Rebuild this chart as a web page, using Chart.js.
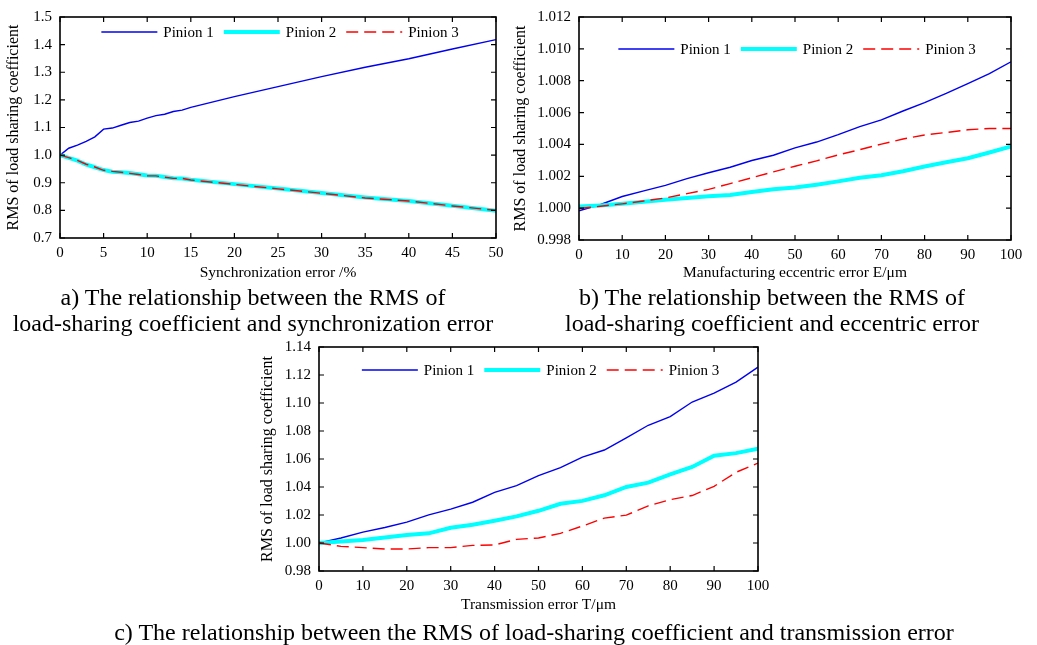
<!DOCTYPE html>
<html>
<head>
<meta charset="utf-8">
<script src="https://cdn.jsdelivr.net/npm/chart.js@4"></script>
<style>
  body { margin: 0; background: #fff; }
  #page { position: relative; width: 1037px; height: 645px; overflow: hidden; font-family: 'Liberation Serif', 'Times New Roman', serif; }
  .box { position: absolute; }
  .cap { position: absolute; font-size: 24px; color: #000; text-align: center; white-space: nowrap; line-height: 26px; }
</style>
</head>
<body>
<div id="page">
  <div class="box" style="left:0;top:0;width:510px;height:285px"><canvas id="chartA"></canvas></div>
  <div class="box" style="left:510px;top:0;width:527px;height:285px"><canvas id="chartB"></canvas></div>
  <div class="box" style="left:250px;top:330px;width:530px;height:290px"><canvas id="chartC"></canvas></div>
  <div class="cap" style="left:0;width:506px;top:284px">a) The relationship between the RMS of<br>load-sharing coefficient and synchronization error</div>
  <div class="cap" style="left:522px;width:500px;top:284px">b) The relationship between the RMS of<br>load-sharing coefficient and eccentric error</div>
  <div class="cap" style="left:34px;width:1000px;top:619px">c) The relationship between the RMS of load-sharing coefficient and transmission error</div>
</div>
<script>
// a) synchronization error
const syncX = [0, 1, 2, 3, 4, 5, 6, 7, 8, 9, 10, 11, 12, 13, 14, 15, 20, 25, 30, 35, 40, 45, 50];
const syncP1 = [1.000, 1.025, 1.036, 1.050, 1.066, 1.094, 1.098, 1.108, 1.118, 1.123, 1.134, 1.143, 1.148, 1.158, 1.163, 1.173, 1.212, 1.248, 1.284, 1.318, 1.349, 1.384, 1.418];
const syncP2 = [1.000, 0.990, 0.980, 0.966, 0.956, 0.946, 0.940, 0.938, 0.935, 0.931, 0.926, 0.925, 0.921, 0.916, 0.915, 0.911, 0.895, 0.879, 0.863, 0.847, 0.834, 0.817, 0.799];
const syncP3 = [1.000, 0.991, 0.981, 0.967, 0.957, 0.945, 0.941, 0.938, 0.934, 0.930, 0.925, 0.925, 0.920, 0.916, 0.916, 0.910, 0.894, 0.878, 0.862, 0.845, 0.834, 0.816, 0.800];
const syncXTicks = [0, 5, 10, 15, 20, 25, 30, 35, 40, 45, 50];
const syncYTicks = [0.7, 0.8, 0.9, 1.0, 1.1, 1.2, 1.3, 1.4, 1.5];

// b) eccentric error
const eccX = [0, 5, 10, 15, 20, 25, 30, 35, 40, 45, 50, 55, 60, 65, 70, 75, 80, 85, 90, 95, 100];
const eccP1 = [0.99983, 1.00023, 1.00073, 1.00108, 1.00143, 1.00185, 1.00222, 1.00257, 1.00299, 1.00332, 1.00378, 1.00415, 1.00461, 1.00512, 1.00554, 1.00610, 1.00662, 1.00720, 1.00782, 1.00844, 1.00919];
const eccP2 = [1.00010, 1.00017, 1.00027, 1.00040, 1.00052, 1.00064, 1.00075, 1.00083, 1.00102, 1.00118, 1.00129, 1.00147, 1.00168, 1.00191, 1.00207, 1.00232, 1.00261, 1.00288, 1.00313, 1.00349, 1.00388];
const eccP3 = [0.99998, 1.00012, 1.00027, 1.00045, 1.00064, 1.00091, 1.00118, 1.00154, 1.00191, 1.00228, 1.00263, 1.00297, 1.00334, 1.00367, 1.00402, 1.00434, 1.00459, 1.00475, 1.00492, 1.00500, 1.00500];
const eccXTicks = [0, 10, 20, 30, 40, 50, 60, 70, 80, 90, 100];
const eccYTicks = [0.998, 1.000, 1.002, 1.004, 1.006, 1.008, 1.010, 1.012];

// c) transmission error
const trX = [0, 5, 10, 15, 20, 25, 30, 35, 40, 45, 50, 55, 60, 65, 70, 75, 80, 85, 90, 95, 100];
const trP1 = [1.0000, 1.0036, 1.0078, 1.0111, 1.0149, 1.0201, 1.0242, 1.0291, 1.0362, 1.0410, 1.0481, 1.0538, 1.0614, 1.0664, 1.0751, 1.0841, 1.0903, 1.1007, 1.1071, 1.1149, 1.1256];
const trP2 = [1.0000, 1.0010, 1.0021, 1.0040, 1.0057, 1.0069, 1.0109, 1.0130, 1.0159, 1.0190, 1.0230, 1.0280, 1.0301, 1.0341, 1.0400, 1.0431, 1.0490, 1.0543, 1.0623, 1.0642, 1.0673];
const trP3 = [1.0000, 0.9976, 0.9967, 0.9957, 0.9957, 0.9967, 0.9967, 0.9983, 0.9986, 1.0026, 1.0036, 1.0069, 1.0121, 1.0178, 1.0199, 1.0265, 1.0310, 1.0339, 1.0405, 1.0505, 1.0571];
const trXTicks = [0, 10, 20, 30, 40, 50, 60, 70, 80, 90, 100];
const trYTicks = [0.98, 1.00, 1.02, 1.04, 1.06, 1.08, 1.10, 1.12, 1.14];

const seriesNames = ['Pinion 1', 'Pinion 2', 'Pinion 3'];

const FONT = "'Liberation Serif', 'Times New Roman', serif";
Chart.defaults.font.family = FONT;
Chart.defaults.font.size = 15;
Chart.defaults.color = '#000';

// box round the plot + inward tick marks on all four sides
const frameTicks = {
  id: 'frameTicks',
  afterDraw(chart) {
    const {ctx, chartArea: a, scales} = chart;
    ctx.save();
    ctx.strokeStyle = '#000';
    ctx.lineWidth = 1.6;
    ctx.setLineDash([]);
    ctx.strokeRect(a.left, a.top, a.right - a.left, a.bottom - a.top);
    ctx.lineWidth = 1.2;
    ctx.beginPath();
    scales.x.ticks.forEach(t => {
      const px = scales.x.getPixelForValue(t.value);
      ctx.moveTo(px, a.bottom); ctx.lineTo(px, a.bottom - 5);
      ctx.moveTo(px, a.top); ctx.lineTo(px, a.top + 5);
    });
    scales.y.ticks.forEach(t => {
      const py = scales.y.getPixelForValue(t.value);
      ctx.moveTo(a.left, py); ctx.lineTo(a.left + 5, py);
      ctx.moveTo(a.right, py); ctx.lineTo(a.right - 5, py);
    });
    ctx.stroke();
    ctx.restore();
  }
};

// one-row legend inside the plot, near the top
const innerLegend = {
  id: 'innerLegend',
  afterDatasetsDraw(chart, args, opts) {
    const {ctx, chartArea: a} = chart;
    const sets = chart.data.datasets;
    const lineW = 56, gap = 6, sep = 10;
    ctx.save();
    ctx.font = '15px ' + FONT;
    const widths = sets.map(d => lineW + gap + ctx.measureText(d.label).width);
    const total = widths.reduce((s, w) => s + w, 0) + sep * (sets.length - 1);
    let x = (a.left + a.right) / 2 - total / 2 + (opts.dx || 0);
    const y = a.top + opts.dy;
    sets.forEach((d, i) => {
      ctx.strokeStyle = d.borderColor;
      ctx.lineWidth = d.borderWidth;
      ctx.setLineDash(d.borderDash || []);
      ctx.beginPath();
      ctx.moveTo(x, y);
      ctx.lineTo(x + lineW, y);
      ctx.stroke();
      ctx.fillStyle = '#000';
      ctx.textBaseline = 'middle';
      ctx.textAlign = 'left';
      ctx.fillText(d.label, x + lineW + gap, y + 1);
      x += widths[i] + sep;
    });
    ctx.restore();
  }
};

function points(xs, ys) {
  return xs.map((x, i) => ({x: x, y: ys[i]}));
}

function makeChart(id, cfg) {
  const datasets = [
    {label: seriesNames[0], data: points(cfg.x, cfg.p1), borderColor: '#0000f0', borderWidth: 1.4, order: 3},
    {label: seriesNames[1], data: points(cfg.x, cfg.p2), borderColor: '#00ffff', borderWidth: 4, order: 2},
    {label: seriesNames[2], data: points(cfg.x, cfg.p3), borderColor: '#ff0000', borderWidth: 1.4, borderDash: [12, 6], order: 1}
  ];
  datasets.forEach(d => { d.pointRadius = 0; d.tension = 0; d.fill = false; });

  return new Chart(document.getElementById(id), {
    type: 'line',
    data: {datasets: datasets},
    options: {
      responsive: true,
      maintainAspectRatio: false,
      animation: false,
      layout: {padding: cfg.pad},
      plugins: {
        tooltip: {enabled: false},
        legend: {display: false},
        innerLegend: {dy: cfg.legendY, dx: 2}
      },
      scales: {
        x: {
          type: 'linear',
          min: cfg.xTicks[0],
          max: cfg.xTicks[cfg.xTicks.length - 1],
          grid: {display: false, drawTicks: false},
          border: {display: false},
          afterBuildTicks: s => { s.ticks = cfg.xTicks.map(v => ({value: v})); },
          afterFit: s => { s.height = cfg.xH; },
          ticks: {padding: 6, maxRotation: 0, font: {size: 15}, callback: v => String(v)},
          title: {display: true, text: cfg.xTitle, font: {size: 15.5}, padding: {top: 0, bottom: cfg.xTitlePad}}
        },
        y: {
          min: cfg.yTicks[0],
          max: cfg.yTicks[cfg.yTicks.length - 1],
          grid: {display: false, drawTicks: false},
          border: {display: false},
          afterBuildTicks: s => { s.ticks = cfg.yTicks.map(v => ({value: v})); },
          afterFit: s => { s.width = cfg.yW; },
          ticks: {padding: 8, font: {size: 15}, callback: v => Number(v).toFixed(cfg.yDec)},
          title: {display: true, text: 'RMS of load sharing coefficient', font: {size: 16}, padding: {top: cfg.yTitlePad, bottom: 0}}
        }
      }
    },
    plugins: [frameTicks, innerLegend]
  });
}

makeChart('chartA', {
  x: syncX, p1: syncP1, p2: syncP2, p3: syncP3,
  xTicks: syncXTicks, yTicks: syncYTicks, yDec: 1,
  xTitle: 'Synchronization error /%',
  pad: {left: 0, top: 14, right: 14, bottom: 0},
  xH: 47, yW: 60, xTitlePad: 3, yTitlePad: 4,
  legendY: 15
});

makeChart('chartB', {
  x: eccX, p1: eccP1, p2: eccP2, p3: eccP3,
  xTicks: eccXTicks, yTicks: eccYTicks, yDec: 3,
  xTitle: 'Manufacturing eccentric error E/\u03bcm',
  pad: {left: 0, top: 15, right: 26, bottom: 0},
  xH: 45, yW: 69, xTitlePad: 3, yTitlePad: 1,
  legendY: 32
});

makeChart('chartC', {
  x: trX, p1: trP1, p2: trP2, p3: trP3,
  xTicks: trXTicks, yTicks: trYTicks, yDec: 2,
  xTitle: 'Transmission error T/\u03bcm',
  pad: {left: 0, top: 16, right: 22, bottom: 0},
  xH: 49, yW: 69, xTitlePad: 6, yTitlePad: 8,
  legendY: 23
});
</script>
</body>
</html>
